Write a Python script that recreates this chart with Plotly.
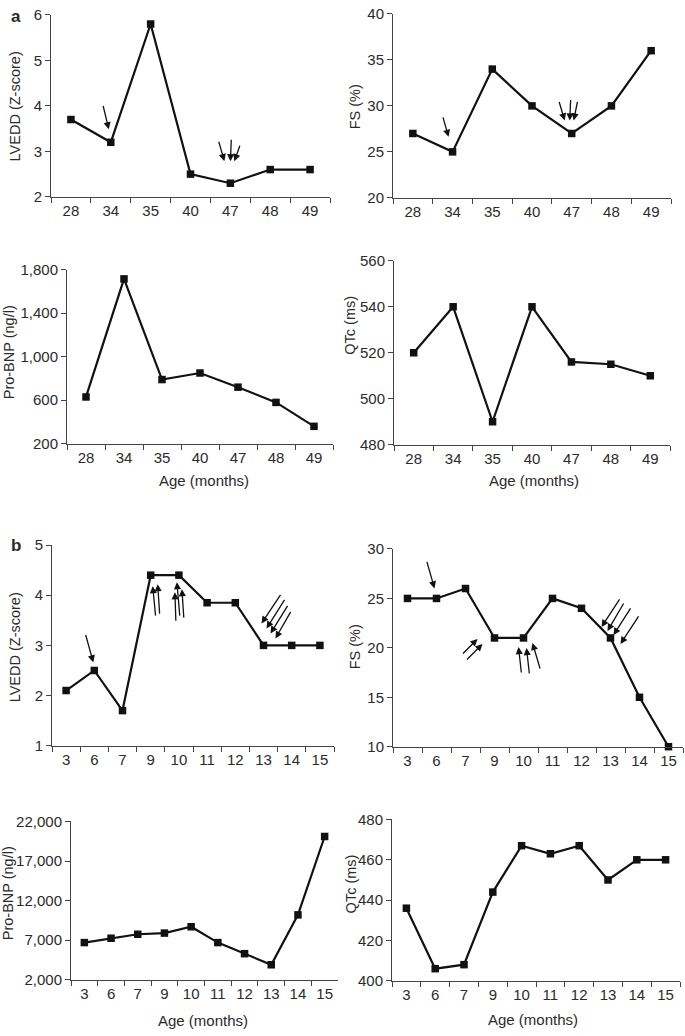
import plotly.graph_objects as go

# ---------------- data ----------------
age_a = ["28", "34", "35", "40", "47", "48", "49"]
lvedd_a = [3.7, 3.2, 5.8, 2.5, 2.3, 2.6, 2.6]
fs_a = [27, 25, 34, 30, 27, 30, 36]
bnp_a = [630, 1715, 790, 850, 720, 580, 360]
qtc_a = [520, 540, 490, 540, 516, 515, 510]

age_b = ["3", "6", "7", "9", "10", "11", "12", "13", "14", "15"]
lvedd_b = [2.1, 2.5, 1.7, 4.4, 4.4, 3.85, 3.85, 3.0, 3.0, 3.0]
fs_b = [25, 25, 26, 21, 21, 25, 24, 21, 15, 10]
bnp_b = [6700, 7250, 7750, 7900, 8700, 6700, 5300, 3900, 10200, 20100]
qtc_b = [436, 406, 408, 444, 467, 463, 467, 450, 460, 460]

y_titles = ["LVEDD (Z-score)", "FS (%)", "Pro-BNP (ng/l)", "QTc (ms)",
            "LVEDD (Z-score)", "FS (%)", "Pro-BNP (ng/l)", "QTc (ms)"]
x_title = "Age (months)"
panel_labels = ["a", "b"]

# arrows: (category index, xshift, yshift, ax, ay) relative to the data point
arrows_p1 = [(1, -2, 13, -6, -25), (4, -6, 22, -6, -21), (4, 0, 22, 1, -23), (4, 4, 22, 6, -17)]
arrows_p2 = [(1, -4, 15, -6, -21), (4, -7, 13, -6, -20), (4, -2, 13, 1, -22), (4, 2, 13, 4, -20)]
arrows_p5 = [(1, -1, 8, -8, -29),
             (3, 2, -11, 3, 31), (3, 7, -9, 2, 31),
             (4, -4, -17, 1, 30), (4, -2, -7, 3, 35), (4, 3, -14, 2, 30),
             (7, -2, 22, 20, -30), (7, 3, 17, 19, -30), (7, 7, 12, 18, -29), (7, 12, 7, 16, -28)]
arrows_p6 = [(1, -2, 10, -8, -28),
             (3, -17, -1, -16, 16), (3, -12, -6, -17, 17),
             (4, -5, -9, 3, 27), (4, 3, -10, 3, 27), (4, 9, -5, 8, 27),
             (7, -9, 11, 19, -29), (7, -3, 7, 17, -29), (7, 3, 3, 18, -28), (7, 10, -6, 19, -29)]

# ---------------- layout geometry (pixels) ----------------
W, H = 685, 1036
# (x0, x1, y_top, y_bottom)
boxes = [(51, 330, 6, 191), (393, 671, 5, 192),
         (67, 333, 265, 442), (394, 670, 256, 443),
         (52, 334, 545, 749), (393, 683, 549, 750),
         (71, 338, 826, 987), (392, 680, 824, 988)]
yranges = [(2, 6, 1), (20, 40, 5), (200, 1800, 400), (480, 560, 20),
           (1, 5, 1), (10, 30, 5), (2000, 22000, 5000), (400, 480, 20)]
ytitle_pos = [(15, 99), (355, 100), (9, 349), (350, 322),
              (15, 649), (355, 649), (8, 899), (351, 890)]
xtitle_pos = [None, None, (204, 479), (534, 479), None, None, (203, 1028), (533, 1027)]

series = [(age_a, lvedd_a), (age_a, fs_a), (age_a, bnp_a), (age_a, qtc_a),
          (age_b, lvedd_b), (age_b, fs_b), (age_b, bnp_b), (age_b, qtc_b)]
arrow_sets = {0: arrows_p1, 1: arrows_p2, 4: arrows_p5, 5: arrows_p6}

FONT = "Liberation Sans, Arial, sans-serif"
TXT = "#2b2b2b"
LINE = "#111111"
AX = "#444444"

fig = go.Figure()
annotations = []

for i, (cats, vals) in enumerate(series):
    n = i + 1
    xa = "x" if n == 1 else f"x{n}"
    ya = "y" if n == 1 else f"y{n}"
    fig.add_trace(go.Scatter(
        x=cats, y=vals, xaxis=xa, yaxis=ya, mode="lines+markers",
        line=dict(color=LINE, width=2.2),
        marker=dict(symbol="square", size=7.5, color=LINE),
        cliponaxis=False, showlegend=False, hoverinfo="skip"))
    x0, x1, yt, yb = boxes[i]
    lo, hi, dt = yranges[i]
    xkey = "xaxis" if n == 1 else f"xaxis{n}"
    ykey = "yaxis" if n == 1 else f"yaxis{n}"
    fig.update_layout(**{
        xkey: dict(domain=[x0 / W, x1 / W], anchor=ya, type="category",
                   categoryorder="array", categoryarray=cats,
                   range=[-0.5, len(cats) - 0.5], tickson="boundaries",
                   ticks="outside", ticklen=5, tickcolor=AX, showline=True,
                   linecolor=AX, linewidth=1, showgrid=False, zeroline=False,
                   tickfont=dict(family=FONT, size=15, color=TXT), fixedrange=True),
        ykey: dict(domain=[1 - yb / H, 1 - yt / H], anchor=xa, range=[lo, hi],
                   tick0=lo, dtick=dt, tickformat=",", ticks="outside", ticklen=5,
                   tickcolor=AX, showline=True, linecolor=AX, linewidth=1,
                   showgrid=False, zeroline=False,
                   tickfont=dict(family=FONT, size=15, color=TXT), fixedrange=True),
    })
    tx, ty = ytitle_pos[i]
    annotations.append(dict(text=y_titles[i], x=tx / W, y=1 - ty / H, xref="paper", yref="paper",
                            textangle=-90, showarrow=False, xanchor="center", yanchor="middle",
                            font=dict(family=FONT, size=14.5, color=TXT)))
    if xtitle_pos[i]:
        tx, ty = xtitle_pos[i]
        annotations.append(dict(text=x_title, x=tx / W, y=1 - ty / H, xref="paper", yref="paper",
                                showarrow=False, xanchor="center", yanchor="middle",
                                font=dict(family=FONT, size=15, color=TXT)))
    for (ci, xs, ys, ax, ay) in arrow_sets.get(i, []):
        annotations.append(dict(x=ci, y=vals[ci], xref=xa, yref=ya,
                                xshift=xs, yshift=ys, ax=ax, ay=ay, axref="pixel", ayref="pixel",
                                showarrow=True, arrowhead=2, arrowsize=1.1, arrowwidth=1.3,
                                arrowcolor=LINE, standoff=0, text=""))

annotations.append(dict(text="<b>" + panel_labels[0] + "</b>", x=16 / W, y=1 - 8 / H, xref="paper",
                        yref="paper", showarrow=False, xanchor="center", yanchor="middle",
                        font=dict(family=FONT, size=17, color=TXT)))
annotations.append(dict(text="<b>" + panel_labels[1] + "</b>", x=16 / W, y=1 - 545 / H, xref="paper",
                        yref="paper", showarrow=False, xanchor="center", yanchor="middle",
                        font=dict(family=FONT, size=17, color=TXT)))

fig.update_layout(width=W, height=H, margin=dict(l=0, r=0, t=0, b=0),
                  paper_bgcolor="white", plot_bgcolor="white",
                  annotations=annotations, showlegend=False)

fig.write_html("out.html", config={"displayModeBar": False},
               post_script="document.body.style.margin='0px';document.body.style.overflow='hidden';")
